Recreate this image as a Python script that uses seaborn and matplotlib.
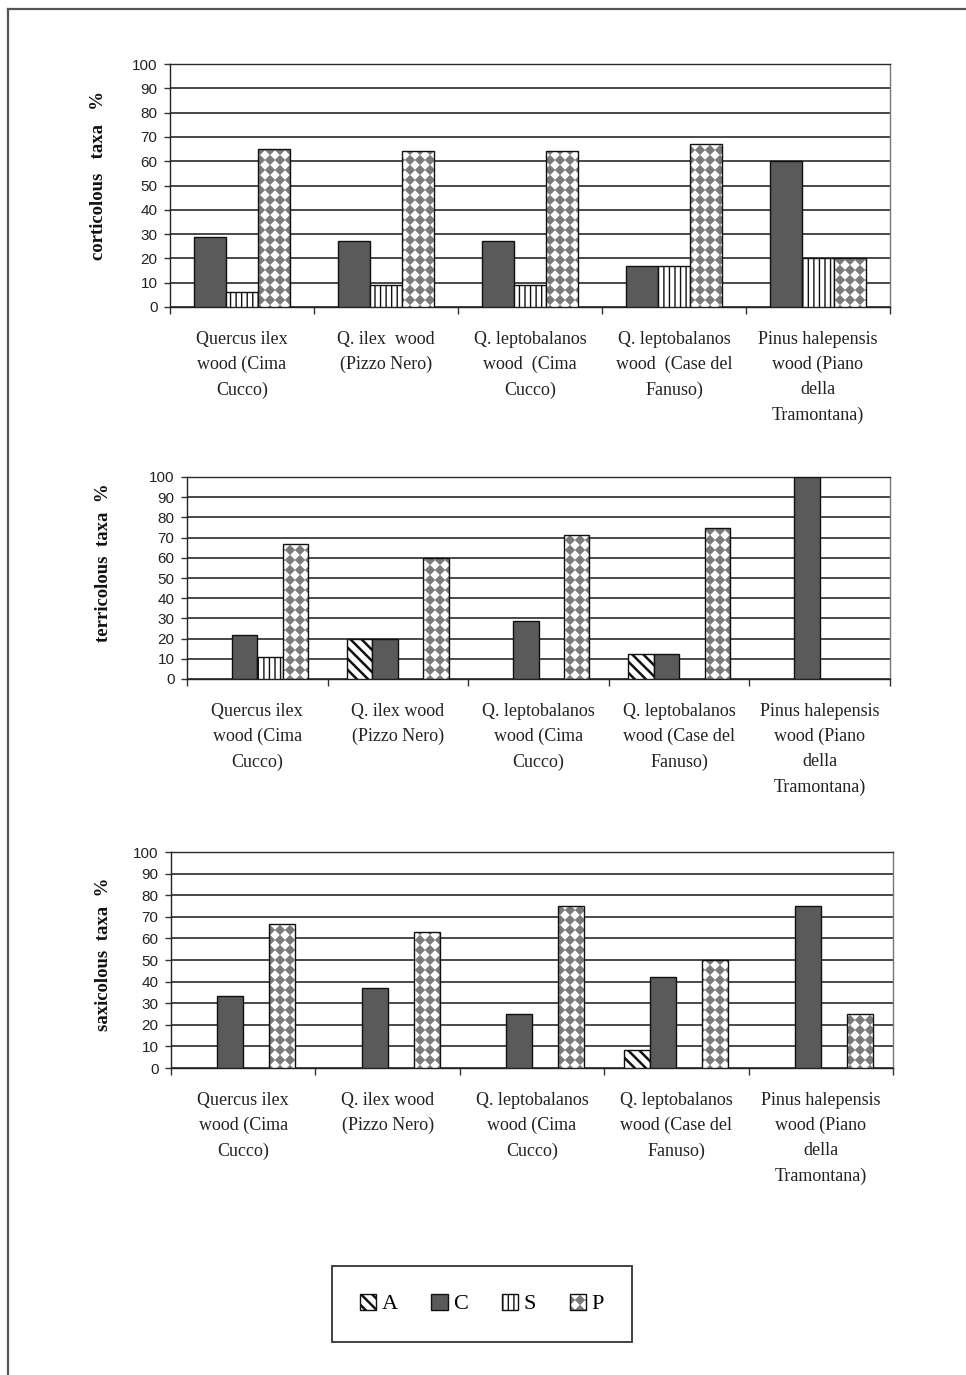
import numpy as np
import pandas as pd
import matplotlib
matplotlib.use("Agg")
import matplotlib.pyplot as plt
import matplotlib.hatch as mhatch
from matplotlib.path import Path
from matplotlib.patches import Patch
from matplotlib.lines import Line2D
from matplotlib.colors import to_hex, to_rgba
import seaborn as sns

# ---------------- data ----------------
types = ["A", "C", "S", "P"]
sites = ["QI_CC", "QI_PN", "QL_CC", "QL_CF", "PH_PT"]

labels_top = ["Quercus ilex\nwood (Cima\nCucco)",
              "Q. ilex  wood\n(Pizzo Nero)",
              "Q. leptobalanos\nwood  (Cima\nCucco)",
              "Q. leptobalanos\nwood  (Case del\nFanuso)",
              "Pinus halepensis\nwood (Piano\ndella\nTramontana)"]
labels_mid = ["Quercus ilex\nwood (Cima\nCucco)",
              "Q. ilex wood\n(Pizzo Nero)",
              "Q. leptobalanos\nwood (Cima\nCucco)",
              "Q. leptobalanos\nwood (Case del\nFanuso)",
              "Pinus halepensis\nwood (Piano\ndella\nTramontana)"]
labels_bot = ["Quercus ilex\nwood (Cima\nCucco)",
              "Q. ilex wood\n(Pizzo Nero)",
              "Q. leptobalanos\nwood (Cima\nCucco)",
              "Q. leptobalanos\nwood (Case del\nFanuso)",
              "Pinus halepensis\nwood (Piano\ndella\nTramontana)"]

nan = np.nan
cort_A = [nan, nan, nan, nan, nan]
cort_C = [29, 27, 27, 17, 60]
cort_S = [6, 9, 9, 17, 20]
cort_P = [65, 64, 64, 67, 20]

terr_A = [nan, 20, nan, 12.5, nan]
terr_C = [22, 20, 28.5, 12.5, 100]
terr_S = [11, nan, nan, nan, nan]
terr_P = [67, 60, 71.5, 75, nan]

saxi_A = [nan, nan, nan, 8.3, nan]
saxi_C = [33.3, 37, 25, 42, 75]
saxi_S = [nan, nan, nan, nan, nan]
saxi_P = [66.7, 63, 75, 50, 25]

y_ticks = list(range(0, 101, 10))
legend_labels = ["A", "C", "S", "P"]


# ---------------- custom diamond hatch ('*') ----------------
class _Diamonds(mhatch.HatchPatternBase):
    def __init__(self, hatch, density):
        self.n = int(round(hatch.count("*") * density * 5 / 3))
        self.num_vertices = (self.n + 1) ** 2 * 5 if self.n else 0

    def set_vertices_and_codes(self, vertices, codes):
        n = self.n
        off = 1.0 / n
        h = off * 0.42
        shape = np.array([[0, h], [-h, 0], [0, -h], [h, 0], [0, h]])
        scodes = np.array([Path.MOVETO, Path.LINETO, Path.LINETO,
                           Path.LINETO, Path.CLOSEPOLY], dtype=Path.code_type)
        k = 0
        for i in range(n + 1):
            for j in range(n + 1):
                vertices[k:k + 5] = shape + [i * off, j * off]
                codes[k:k + 5] = scodes
                k += 5


try:
    mhatch._hatch_types = [(_Diamonds if t is mhatch.Stars else t)
                           for t in mhatch._hatch_types]
    P_HATCH = "*"
except Exception:
    P_HATCH = "xx"

plt.rcParams["hatch.linewidth"] = 1.0

styles = {
    "A": dict(face="#ffffff", hatch="\\\\\\", hcolor="#111111", hlw=1.8),
    "C": dict(face="#5a5a5a", hatch=None, hcolor=None, hlw=None),
    "S": dict(face="#fefefe", hatch="|||", hcolor="#111111", hlw=1.0),
    "P": dict(face="#fdfdfd", hatch=P_HATCH, hcolor="#7a7a7a", hlw=1.0),
}
face_to_type = {to_hex(v["face"]): k for k, v in styles.items()}
palette = {k: v["face"] for k, v in styles.items()}


def style_patch(p, t):
    st = styles[t]
    if st["hatch"]:
        p.set_hatch(st["hatch"])
        p._hatch_color = to_rgba(st["hcolor"])
        if hasattr(p, "set_hatch_linewidth"):
            try:
                p.set_hatch_linewidth(st["hlw"])
            except Exception:
                pass


def make_df(A, C, S, P):
    rows = []
    for t, vals in zip(types, [A, C, S, P]):
        for s, v in zip(sites, vals):
            rows.append((s, t, v))
    return pd.DataFrame(rows, columns=["site", "type", "value"]).dropna()


charts = [
    dict(df=make_df(cort_A, cort_C, cort_S, cort_P), hue_order=["C", "S", "P"],
         width=0.667, labels=labels_top, ylabel="corticolous   taxa   %",
         rect=(170 / 966, 1 - 307 / 1375, 720 / 966, 243 / 1375),
         ylab_xy=(-0.088, 0.54)),
    dict(df=make_df(terr_A, terr_C, terr_S, terr_P), hue_order=["A", "C", "S", "P"],
         width=0.725, labels=labels_mid, ylabel="terricolous  taxa  %",
         rect=(187 / 966, 1 - 679 / 1375, 703 / 966, 202 / 1375),
         ylab_xy=(-0.107, 0.575)),
    dict(df=make_df(saxi_A, saxi_C, saxi_S, saxi_P), hue_order=["A", "C", "S", "P"],
         width=0.72, labels=labels_bot, ylabel="saxicolous  taxa  %",
         rect=(171 / 966, 1 - 1068 / 1375, 722 / 966, 216 / 1375),
         ylab_xy=(-0.082, 0.528)),
]

fig = plt.figure(figsize=(9.66, 13.75), dpi=100)
fig.patch.set_facecolor("white")

SERIF = ["Liberation Serif", "DejaVu Serif"]
SANS = ["Liberation Sans", "DejaVu Sans"]

for cfg in charts:
    ax = fig.add_axes(cfg["rect"])
    sns.barplot(data=cfg["df"], x="site", y="value", hue="type",
                order=sites, hue_order=cfg["hue_order"], palette=palette,
                width=cfg["width"], saturation=1, edgecolor="#111111",
                linewidth=1.0, errorbar=None, legend=False, ax=ax, zorder=3)
    for p in ax.patches:
        t = face_to_type.get(to_hex(p.get_facecolor()))
        if t:
            style_patch(p, t)

    ax.set_xlim(-0.5, 4.5)
    ax.set_ylim(0, 100)
    ax.set_yticks(y_ticks)
    ax.set_yticklabels([str(v) for v in y_ticks], fontfamily=SANS,
                       fontsize=11, color="#222222")
    ax.set_xticks(range(5))
    ax.set_xticklabels(cfg["labels"], fontfamily=SERIF, fontsize=13,
                       color="#222222", linespacing=1.62)
    ax.set_xticks(np.arange(-0.5, 5.0, 1.0), minor=True)
    ax.tick_params(axis="x", which="major", length=0, pad=17)
    ax.tick_params(axis="x", which="minor", length=5, width=1,
                   direction="out", color="#333333")
    ax.tick_params(axis="y", length=4, width=1, direction="out",
                   pad=5, color="#333333")
    ax.set_xlabel("")
    ax.set_ylabel(cfg["ylabel"], fontfamily=SERIF, fontweight="bold",
                  fontsize=13.5, color="#111111")
    ax.yaxis.set_label_coords(*cfg["ylab_xy"])
    ax.yaxis.grid(True, color="#2a2a2a", linewidth=1.2)
    ax.xaxis.grid(False)
    ax.set_axisbelow(True)
    for side, sp in ax.spines.items():
        sp.set_visible(True)
        sp.set_linewidth(1.0)
        sp.set_color("#222222")
    ax.spines["right"].set_color("#777777")
    ax.spines["top"].set_color("#2a2a2a")

# legend
handles = []
for t in legend_labels:
    st = styles[t]
    h = Patch(facecolor=st["face"], edgecolor="#111111", linewidth=1.0)
    style_patch(h, t)
    handles.append(h)
leg = fig.legend(handles=handles, labels=legend_labels, ncol=4,
                 loc="center", mode="expand", borderaxespad=0.0,
                 bbox_to_anchor=(332 / 966, 1 - 1341 / 1375, 300 / 966, 74 / 1375),
                 prop={"family": SERIF, "size": 16},
                 handlelength=0.75, handleheight=0.75, handletextpad=0.25,
                 borderpad=1.25, frameon=True, fancybox=False, shadow=False,
                 framealpha=1, edgecolor="#333333")
leg.get_frame().set_linewidth(1.3)
for lp, t in zip(leg.get_patches(), legend_labels):
    style_patch(lp, t)

# outer frame lines (top and left)
y0 = 1 - 8.5 / 1375
x0 = 7.5 / 966
fig.add_artist(Line2D([x0, 1.0], [y0, y0], transform=fig.transFigure,
                      color="#555555", linewidth=1.6))
fig.add_artist(Line2D([x0, x0], [0.0, y0], transform=fig.transFigure,
                      color="#555555", linewidth=1.6))

fig.savefig("out.png", dpi=100)
